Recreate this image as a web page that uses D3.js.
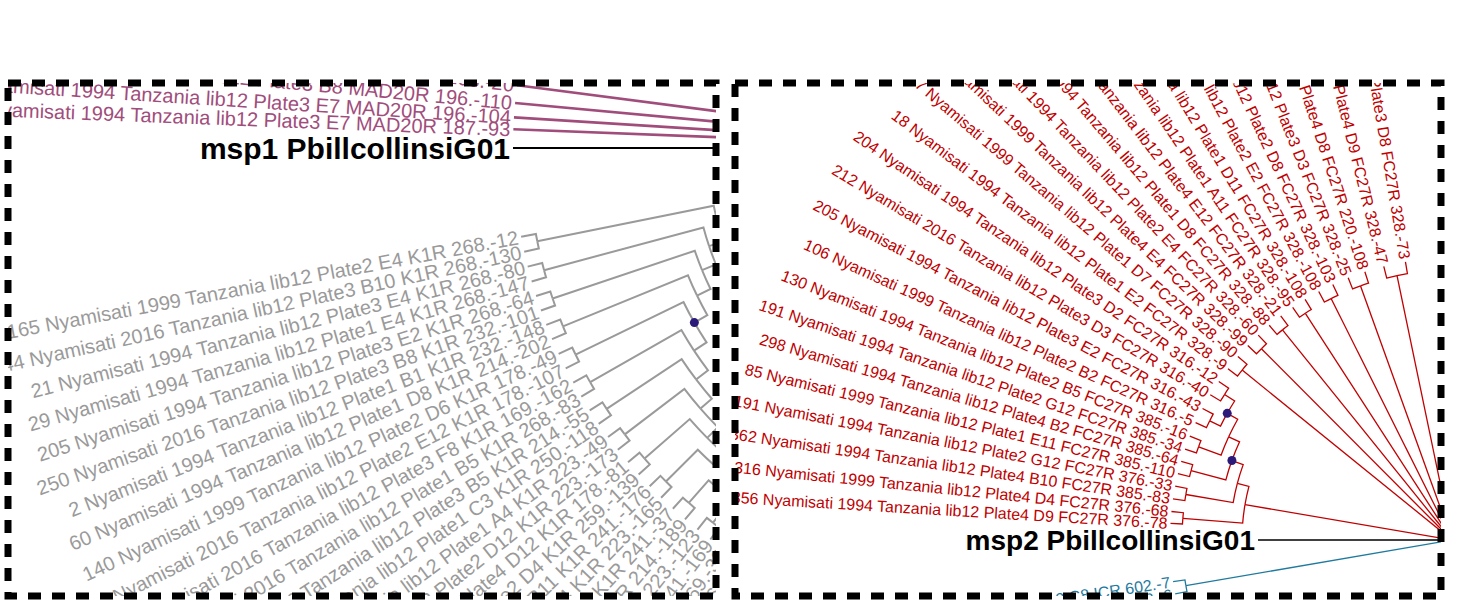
<!DOCTYPE html>
<html>
<head>
<meta charset="utf-8">
<script src="https://cdn.jsdelivr.net/npm/d3@7"></script>
<style>
  body { margin: 0; background: #fff; }
  text { font-family: "Liberation Sans", Arial, sans-serif; }
</style>
</head>
<body>
<div id="chart"></div>
<script>
// leaf labels and their label angles (degrees)
const grayNames = [
  "165 Nyamisati 1999 Tanzania lib12 Plate2 E4 K1R 268.-12",
  "44 Nyamisati 2016 Tanzania lib12 Plate3 B10 K1R 268.-130",
  "21 Nyamisati 1994 Tanzania lib12 Plate3 E4 K1R 268.-80",
  "29 Nyamisati 1994 Tanzania lib12 Plate1 E4 K1R 268.-147",
  "205 Nyamisati 1994 Tanzania lib12 Plate3 E2 K1R 268.-64",
  "250 Nyamisati 2016 Tanzania lib12 Plate3 B8 K1R 232.-101",
  "2 Nyamisati 1994 Tanzania lib12 Plate1 B1 K1R 232.-148",
  "60 Nyamisati 1994 Tanzania lib12 Plate1 D8 K1R 214.-202",
  "140 Nyamisati 1999 Tanzania lib12 Plate2 D6 K1R 178.-49",
  "189 Nyamisati 2016 Tanzania lib12 Plate2 E12 K1R 178.-107",
  "74 Nyamisati 2016 Tanzania lib12 Plate3 F8 K1R 169.-162",
  "88 Nyamisati 2016 Tanzania lib12 Plate1 B5 K1R 268.-83",
  "91 Nyamisati 2016 Tanzania lib12 Plate3 B5 K1R 214.-55",
  "17 Nyamisati 1994 Tanzania lib12 Plate1 C3 K1R 250.-118",
  "33 Nyamisati 1994 Tanzania lib12 Plate1 A4 K1R 223.-49",
  "52 Nyamisati 1999 Tanzania lib12 Plate2 D12 K1R 223.-173",
  "71 Nyamisati 1999 Tanzania lib12 Plate4 D12 K1R 178.-81",
  "12 Nyamisati 2016 Tanzania lib12 Plate2 D4 K1R 259.-139",
  "67 Nyamisati 1994 Tanzania lib12 Plate3 B11 K1R 241.-176",
  "95 Nyamisati 1994 Tanzania lib12 Plate3 D4 K1R 223.-165",
  "43 Nyamisati 2016 Tanzania lib12 Plate1 F5 K1R 241.-37",
  "81 Nyamisati 1999 Tanzania lib12 Plate2 C5 K1R 214.-189",
  "120 Nyamisati 1994 Tanzania lib12 Plate4 A4 K1R 223.-123",
  "133 Nyamisati 1994 Tanzania lib12 Plate1 G4 K1R 241.-169",
  "150 Nyamisati 2016 Tanzania lib12 Plate2 H3 K1R 169.-32",
  "171 Nyamisati 1999 Tanzania lib12 Plate3 A9 K1R 169.-3"
];
const grayAngles = [-10.5, -12.3, -14.1, -15.9, -17.7, -19.5, -21.3, -23.1, -25, -26.9, -28.8, -30.7,
  -32.6, -34.5, -36.4, -38.3, -40.2, -42.1, -44, -45.9, -47.8, -49.7, -51.6, -53.5, -55.4, -57.3];

const pinkNames = [
  "30 Nyamisati 1994 Tanzania lib12 Plate3 H8 MAD20R 205.-20",
  "112 Nyamisati 2016 Tanzania lib12 Plate3 B8 MAD20R 196.-110",
  "57 Nyamisati 1994 Tanzania lib12 Plate3 E7 MAD20R 196.-104",
  "66 Nyamisati 1994 Tanzania lib12 Plate3 E7 MAD20R 187.-93"
];
const pinkAngles = [7.4, 5.3, 3.6, 2.2];

const redNames = [
  "356 Nyamisati 1994 Tanzania lib12 Plate4 D9 FC27R 376.-78",
  "316 Nyamisati 1999 Tanzania lib12 Plate4 D4 FC27R 376.-68",
  "362 Nyamisati 1994 Tanzania lib12 Plate4 B10 FC27R 385.-83",
  "191 Nyamisati 1994 Tanzania lib12 Plate2 G12 FC27R 376.-33",
  "85 Nyamisati 1999 Tanzania lib12 Plate1 E11 FC27R 385.-110",
  "298 Nyamisati 1994 Tanzania lib12 Plate4 B2 FC27R 385.-64",
  "191 Nyamisati 1994 Tanzania lib12 Plate2 G12 FC27R 385.-34",
  "130 Nyamisati 1994 Tanzania lib12 Plate2 B5 FC27R 385.-16",
  "106 Nyamisati 1999 Tanzania lib12 Plate2 B2 FC27R 316.-5",
  "205 Nyamisati 1994 Tanzania lib12 Plate3 E2 FC27R 316.-43",
  "212 Nyamisati 2016 Tanzania lib12 Plate3 D3 FC27R 316.-40",
  "204 Nyamisati 1994 Tanzania lib12 Plate3 D2 FC27R 316.-12",
  "18 Nyamisati 1994 Tanzania lib12 Plate1 E2 FC27R 328.-9",
  "47 Nyamisati 1999 Tanzania lib12 Plate1 D7 FC27R 328.-90",
  "62 Nyamisati 1999 Tanzania lib12 Plate4 E4 FC27R 328.-99",
  "77 Nyamisati 1994 Tanzania lib12 Plate2 E4 FC27R 328.-60",
  "93 Nyamisati 1994 Tanzania lib12 Plate1 D8 FC27R 328.-88",
  "101 Nyamisati 2016 Tanzania lib12 Plate4 E12 FC27R 328.-21",
  "117 Nyamisati 1994 Tanzania lib12 Plate1 A11 FC27R 328.-95",
  "125 Nyamisati 1999 Tanzania lib12 Plate1 D11 FC27R 328.-108",
  "139 Nyamisati 1994 Tanzania lib12 Plate2 E2 FC27R 328.-108",
  "146 Nyamisati 1994 Tanzania lib12 Plate2 D8 FC27R 328.-103",
  "158 Nyamisati 2016 Tanzania lib12 Plate3 D3 FC27R 328.-25",
  "163 Nyamisati 1994 Tanzania lib12 Plate4 D8 FC27R 220.-108",
  "177 Nyamisati 1999 Tanzania lib12 Plate4 D9 FC27R 328.-47",
  "183 Nyamisati 1994 Tanzania lib12 Plate3 D8 FC27R 328.-73"
];
const redAngles = [3.4, 5.8, 8.4, 11, 13.6, 16.2, 18.8, 21.6, 24.6, 27.8, 31, 34.2, 37.4,
  40.6, 43.6, 46.6, 49.6, 52.6, 55.6, 58.6, 61.8, 65, 68.4, 72, 76, 80.5];

const tealNames = ["28 Nyamisati 1994 Tanzania lib12 Plate2 C8 ICR 602.-7", "31 Nyamisati 1994 Tanzania lib12 Plate2 C9 ICR 602.-6"];
const tealAngles = [-8.5, -11];

const svg = d3.select("#chart").append("svg")
  .attr("width", 1459).attr("height", 600);

// chop leaves into pairs, then chain the pairs
function caterpillar(leaves) {
  const chunks = d3.range(0, leaves.length, 2).map(i => leaves.slice(i, i + 2))
    .map(c => c.length === 1 ? c[0] : {children: c});
  let node = chunks[chunks.length - 1];
  for (let i = chunks.length - 2; i >= 0; i--) node = {children: [chunks[i], node]};
  return node;
}
const leaves = (names, angles, color) => names.map((n, i) => ({name: n, angle: angles[i], color}));

function drawTree(g, rootData, opt) {
  const root = d3.hierarchy(rootData);
  const H = root.height;
  const r = d3.scaleLinear().domain([0, H]).range([opt.R, opt.R - H * opt.step]).clamp(true);
  root.eachAfter(d => {
    if (!d.children) { d.angle = d.data.angle; d.color = d.data.color; }
    else {
      const a = d.children.map(c => c.angle);
      d.angle = (d3.min(a) + d3.max(a)) / 2;
      const cs = new Set(d.children.map(c => c.color));
      d.color = cs.size === 1 ? d.children[0].color : "#000";
    }
    d.r = d.depth === 0 ? 0 : (d.data.out ? opt.outR : Math.max(0, r(d.height)));
  });
  const pt = (a, rr) => {
    const t = a * Math.PI / 180;
    return [opt.cx - rr * Math.cos(t), opt.cy - rr * Math.sin(t)];
  };
  g.append("g").selectAll("path")
    .data(root.links())
    .join("path")
    .attr("fill", "none")
    .attr("stroke", d => d.target.color)
    .attr("stroke-width", d => d.target.data.width || opt.width)
    .attr("d", d => {
      const p = d.source, c = d.target;
      const a = pt(c.angle, c.r), b = pt(c.angle, p.r), e = pt(p.angle, p.r);
      return "M" + a + "L" + b + "A" + p.r + "," + p.r + " 0 0 " + (p.angle > c.angle ? 1 : 0) + " " + e;
    });
  g.append("g").selectAll("text")
    .data(root.leaves())
    .join("text")
    .attr("transform", d => "translate(" + pt(d.angle, d.r) + ") rotate(" + d.angle + ")")
    .attr("text-anchor", "end")
    .attr("dx", -3)
    .attr("dy", "0.35em")
    .attr("fill", d => d.color)
    .style("font-size", d => (d.data.size || opt.size) + "px")
    .style("font-weight", d => d.data.out ? "bold" : "normal")
    .text(d => d.data.name);
  g.append("g").selectAll("circle")
    .data(root.descendants().filter(d => d.children && d.depth > 0 && opt.dots.includes(d.height)))
    .join("circle")
    .attr("cx", d => pt(d.angle, d.r)[0])
    .attr("cy", d => pt(d.angle, d.r)[1])
    .attr("r", 4.5)
    .attr("fill", "#2b1a7a");
}

const panels = [{x: 8, y: 83, w: 708, h: 513}, {x: 735, y: 83, w: 706, h: 513}];
panels.forEach((p, i) => {
  svg.append("clipPath").attr("id", "clip" + i)
    .append("rect").attr("x", p.x).attr("y", p.y).attr("width", p.w).attr("height", p.h);
});

// left panel: msp1
const leftG = svg.append("g").attr("clip-path", "url(#clip0)");
const pinkLeaves = leaves(pinkNames, pinkAngles, "#a14d7c");
pinkLeaves.forEach(l => { l.width = 2.6; });
drawTree(leftG, {children: [
  {name: "msp1 PbillcollinsiG01", angle: 0, color: "#000", out: true, size: 30},
  {children: [...pinkLeaves, caterpillar(leaves(grayNames, grayAngles, "#9a9a9a"))]}
]}, {cx: 1000, cy: 148, R: 487, outR: 487, step: 15, width: 2, size: 20, dots: [9]});

// right panel: msp2
const rightG = svg.append("g").attr("clip-path", "url(#clip1)");
const redLeaves = leaves(redNames, redAngles, "#c00000");
drawTree(rightG, {children: [
  {name: "msp2 PbillcollinsiG01", angle: 0, color: "#000", out: true, size: 28},
  caterpillar(redLeaves.slice(0, 12)),
  ...d3.range(12, redLeaves.length, 2).map(i => ({children: redLeaves.slice(i, i + 2)})),
  {children: leaves(tealNames, tealAngles, "#1f7a9e")}
]}, {cx: 1452, cy: 540, R: 282, outR: 194, step: 12, width: 1.3, size: 16, dots: [2, 4, 7]});

// dashed panel borders
svg.append("g").selectAll("rect")
  .data(panels)
  .join("rect")
  .attr("x", d => d.x).attr("y", d => d.y)
  .attr("width", d => d.w).attr("height", d => d.h)
  .attr("fill", "none")
  .attr("stroke", "#000")
  .attr("stroke-width", 7)
  .attr("stroke-dasharray", "13,11");
</script>
</body>
</html>
